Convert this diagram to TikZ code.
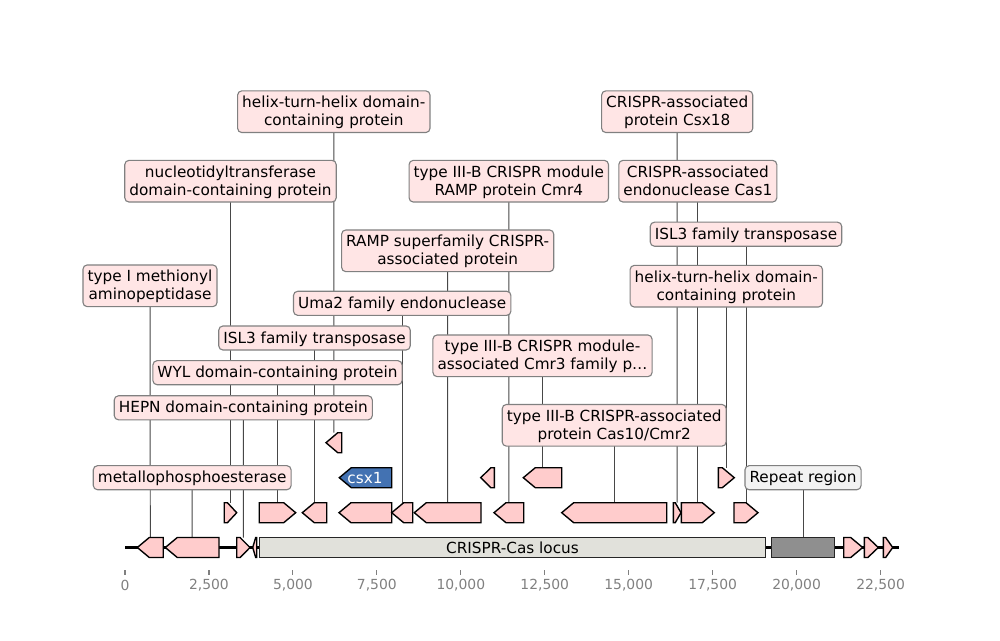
\documentclass[tikz,border=0pt]{standalone}
\usepackage{fontspec}
\setmainfont{DejaVu Sans}
\pgfdeclarelayer{bg}
\pgfsetlayers{bg,main}
\definecolor{featpink}{HTML}{FFCCCC}
\definecolor{boxpink}{HTML}{FFE5E5}
\definecolor{boxgray}{HTML}{F2F2F2}
\definecolor{locusfill}{HTML}{E1E1DB}
\definecolor{repfill}{HTML}{8F8F8F}
\definecolor{csxblue}{HTML}{4372B2}
\definecolor{tickgray}{HTML}{808080}
\newcommand{\mystrut}{\rule[-2.5pt]{0pt}{12.2pt}}
\newcommand{\two}[2]{\mystrut #1\\\mystrut #2}
\newcommand{\fr}[5]{%
  \pgfmathsetmacro\hl{min(12,0.75*(#3-(#2)))}%
  \draw[#5] (#2,#4-10) -- ({#3-\hl},#4-10) -- (#3,#4) -- ({#3-\hl},#4+10) -- (#2,#4+10) -- cycle;
  \coordinate (#1) at ({(#2+#3)/2},#4-10);}
\newcommand{\fl}[5]{%
  \pgfmathsetmacro\hl{min(12,0.75*(#3-(#2)))}%
  \draw[#5] (#3,#4-10) -- ({#2+\hl},#4-10) -- (#2,#4) -- ({#2+\hl},#4+10) -- (#3,#4+10) -- cycle;
  \coordinate (#1) at ({(#2+#3)/2},#4-10);}
\tikzset{
  feat/.style={draw=black, fill=featpink, line width=1pt},
  lbl/.style={draw=tickgray, fill=boxpink, line width=0.8pt, rounded corners=3pt,
    inner xsep=3.3pt, inner ysep=0pt, minimum height=17.3pt,
    font=\fontsize{11}{12.7}\selectfont, align=center},
  lbltwo/.style={lbl, minimum height=30pt},
  conn/.style={draw=black!72, line width=0.7pt},
  tickmark/.style={draw=tickgray, line width=0.8pt},
  ticklbl/.style={text=tickgray, font=\fontsize{10}{12}\selectfont, inner sep=0pt}
}
\begin{document}
\begin{tikzpicture}[x=0.72pt, y=-0.72pt]
\useasboundingbox (0,0) rectangle (1000,640);
% backbone
\draw[line width=1.5pt] (125,547.5) coordinate (bbL) -- (899,547.5) coordinate (bbR);
% level 0 features
\fl{m1}{137.3}{163.3}{547.5}{feat}
\fl{m2}{165.3}{219}{547.5}{feat}
\fr{m3}{236.7}{250}{547.5}{feat}
\fl{m4}{252.7}{256.7}{547.5}{feat}
\node[draw=black!85, fill=locusfill, line width=1pt, minimum width=364.6pt, minimum height=14.1pt, inner sep=0pt,
  font=\fontsize{11}{12.7}\selectfont] (locus) at (512.5,547.5) {CRISPR-Cas locus};
\node[draw=black!85, fill=repfill, line width=1pt, minimum width=45.1pt, minimum height=14.1pt, inner sep=0pt] (rep) at (803,547.5) {};
\fr{m5}{843.7}{862.7}{547.5}{feat}
\fr{m6}{864.3}{878.3}{547.5}{feat}
\fr{m7}{883.3}{892.7}{547.5}{feat}
% level 1
\fr{a1}{224.3}{236.7}{512.7}{feat}
\fr{a2}{259.3}{295.7}{512.7}{feat}
\fl{a3}{302.3}{326.7}{512.7}{feat}
\fl{a4}{339}{391.7}{512.7}{feat}
\fl{a5}{391.7}{412.7}{512.7}{feat}
\fl{a6}{414.3}{481}{512.7}{feat}
\fl{a7}{494}{523.7}{512.7}{feat}
\fl{a8}{561.7}{666.7}{512.7}{feat}
\fr{a9}{673.3}{681}{512.7}{feat}
\fr{a10}{681.3}{714.3}{512.7}{feat}
\fr{a11}{734}{758}{512.7}{feat}
% level 2
\fl{csx}{339.3}{391.7}{477.7}{draw=black, fill=csxblue, line width=1pt}
\node[text=white, font=\fontsize{11}{12.7}\selectfont, inner sep=0pt] (csxt) at (365,477.7) {csx1};
\fl{b1}{480.7}{494.3}{477.7}{feat}
\fl{b2}{523.3}{561.7}{477.7}{feat}
\fr{b3}{718.3}{734.3}{477.7}{feat}
% level 3
\fl{c1}{326}{341.7}{442.7}{feat}
% labels
\node[lbltwo] (Lmeth) at (150,285.8) {\two{type I methionyl}{aminopeptidase}};
\node[lbl] (Lmetal) at (192.2,477.7) {\mystrut metallophosphoesterase};
\node[lbl] (Lhepn) at (243.3,407.8) {\mystrut HEPN domain-containing protein};
\node[lbltwo] (Lnuc) at (230.5,181.2) {\two{nucleotidyltransferase}{domain-containing protein}};
\node[lbl] (Lwyl) at (277.5,372.7) {\mystrut WYL domain-containing protein};
\node[lbl] (Lisl) at (314.5,338) {\mystrut ISL3 family transposase};
\node[lbl] (Luma) at (402.2,303.3) {\mystrut Uma2 family endonuclease};
\node[lbltwo] (Lramp) at (447.7,250.8) {\two{RAMP superfamily CRISPR-}{associated protein}};
\node[lbltwo] (Lhth) at (333.8,111.7) {\two{helix-turn-helix domain-}{containing protein}};
\node[lbltwo] (Lcmr4) at (508.8,181.2) {\two{type III-B CRISPR module}{RAMP protein Cmr4}};
\node[lbltwo] (Lcmr3) at (542.5,355.8) {\two{type III-B CRISPR module-}{associated Cmr3 family p…}};
\node[lbltwo] (Lcas10) at (614.2,425.3) {\two{type III-B CRISPR-associated}{protein Cas10/Cmr2}};
\node[lbltwo] (Lcsx18) at (677.2,111.7) {\two{CRISPR-associated}{protein Csx18}};
\node[lbltwo] (Lcas1) at (697.8,181.2) {\two{CRISPR-associated}{endonuclease Cas1}};
\node[lbl] (Lisl2) at (746,234.2) {\mystrut ISL3 family transposase};
\node[lbltwo] (Lhth2) at (726.3,286.2) {\two{helix-turn-helix domain-}{containing protein}};
\node[lbl, fill=boxgray] (Lrep) at (803,477.7) {\mystrut Repeat region};
% connectors
\begin{pgfonlayer}{bg}
\draw[conn] (Lmeth.center) -- (m1);
\draw[conn] (Lmetal.center) -- (m2);
\draw[conn] (Lhepn.center) -- (m3);
\draw[conn] (Lnuc.center) -- (a1);
\draw[conn] (Lwyl.center) -- (a2);
\draw[conn] (Lisl.center) -- (a3);
\draw[conn] (Luma.center) -- (a5);
\draw[conn] (Lramp.center) -- (a6);
\draw[conn] (Lhth.center) -- (c1);
\draw[conn] (Lcmr4.center) -- (a7);
\draw[conn] (Lcmr3.center) -- (b2);
\draw[conn] (Lcas10.center) -- (a8);
\draw[conn] (Lcsx18.center) -- (a9);
\draw[conn] (Lcas1.center) -- (a10);
\draw[conn] (Lisl2.center) -- (a11);
\draw[conn] (Lhth2.center) -- (b3);
\draw[conn] (Lrep.center) -- (rep.north);
\end{pgfonlayer}
% axis
\foreach \i/\t in {0/0, 1/{2,500}, 2/{5,000}, 3/{7,500}, 4/{10,000}, 5/{12,500}, 6/{15,000}, 7/{17,500}, 8/{20,000}, 9/{22,500}} {
  \draw[tickmark] ({125+83.95*\i},570) -- ({125+83.95*\i},575);
  \node[ticklbl] (t\i) at ({125+83.95*\i},585.5) {\t};
}
\end{tikzpicture}
\end{document}
